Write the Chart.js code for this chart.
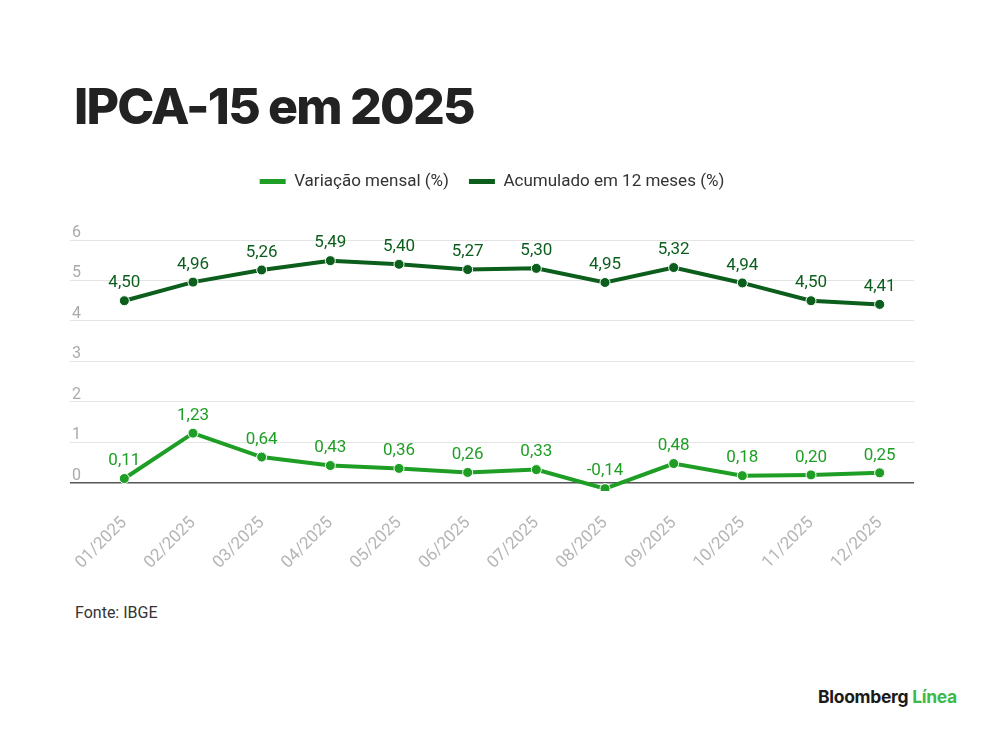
<!DOCTYPE html>
<html>
<head>
<meta charset="utf-8">
<script src="https://cdn.jsdelivr.net/npm/chart.js@4.4.1/dist/chart.umd.min.js"></script>
<style>
  html, body { margin: 0; padding: 0; background: #fff; }
  body { width: 1000px; height: 742px; position: relative; overflow: hidden; font-family: Roboto, sans-serif; }
  #title { position: absolute; left: 74px; top: 76px; font-family: Inter, sans-serif; font-weight: 800; font-size: 50px; letter-spacing: -1.8px; color: #222; margin: 0; line-height: 60px; }
  #chartBox { position: absolute; left: 0; top: 148px; width: 1000px; height: 439px; }
  #source { position: absolute; left: 75px; top: 603px; font-size: 16px; color: #333; }
  #logo { position: absolute; left: 818px; top: 686px; font-family: Inter, sans-serif; font-weight: 700; font-size: 17.5px; color: #1b1b1b; letter-spacing: -0.3px; }
  #logo span { color: #3dba4a; }
</style>
</head>
<body>
<div id="title">IPCA-15 em 2025</div>
<div id="chartBox"><canvas id="myChart"></canvas></div>
<div id="source">Fonte: IBGE</div>
<div id="logo">Bloomberg <span>Línea</span></div>
<script>
// data
const months = ['01/2025', '02/2025', '03/2025', '04/2025', '05/2025', '06/2025',
                '07/2025', '08/2025', '09/2025', '10/2025', '11/2025', '12/2025'];
const mensal = [0.11, 1.23, 0.64, 0.43, 0.36, 0.26, 0.33, -0.14, 0.48, 0.18, 0.20, 0.25];
const acumulado = [4.50, 4.96, 5.26, 5.49, 5.40, 5.27, 5.30, 4.95, 5.32, 4.94, 4.50, 4.41];
const yTicks = [0, 1, 2, 3, 4, 5, 6];

const lightGreen = '#1f9e25';
const darkGreen = '#0b5e1c';

const fmt = v => v.toFixed(2).replace('.', ',');

// value labels above each point
const valueLabels = {
    id: 'valueLabels',
    afterDatasetsDraw(chart) {
        const ctx = chart.ctx;
        ctx.save();
        ctx.font = '17px Roboto';
        ctx.textAlign = 'center';
        ctx.textBaseline = 'bottom';
        chart.data.datasets.forEach((ds, i) => {
            const meta = chart.getDatasetMeta(i);
            ctx.fillStyle = ds.borderColor;
            meta.data.forEach((pt, j) => {
                ctx.fillText(fmt(ds.data[j]), pt.x, pt.y - 9);
            });
        });
        ctx.restore();
    }
};

// y tick labels sit just above their grid line, inside the left edge
const yLabels = {
    id: 'yLabels',
    afterDraw(chart) {
        const ctx = chart.ctx;
        const y = chart.scales.y;
        ctx.save();
        ctx.font = '16px Roboto';
        ctx.fillStyle = '#aaaaaa';
        ctx.textAlign = 'left';
        ctx.textBaseline = 'alphabetic';
        yTicks.forEach(v => {
            ctx.fillText(String(v), y.left + 2, y.getPixelForValue(v) - 3);
        });
        ctx.restore();
    }
};

// extra room under the legend
const legendGap = {
    id: 'legendGap',
    beforeInit(chart) {
        const fit = chart.legend.fit;
        chart.legend.fit = function () {
            fit.bind(chart.legend)();
            this.height += 40;
        };
    }
};

Chart.register(valueLabels, yLabels, legendGap);

new Chart(document.getElementById('myChart'), {
    type: 'line',
    data: {
        labels: months,
        datasets: [
            {
                label: 'Variação mensal (%)',
                data: mensal,
                borderColor: lightGreen,
                backgroundColor: lightGreen,
                borderWidth: 4,
                pointRadius: 5,
                pointBorderColor: '#fff',
                pointBorderWidth: 1,
                pointBackgroundColor: lightGreen
            },
            {
                label: 'Acumulado em 12 meses (%)',
                data: acumulado,
                borderColor: darkGreen,
                backgroundColor: darkGreen,
                borderWidth: 4,
                pointRadius: 5,
                pointBorderColor: '#fff',
                pointBorderWidth: 1,
                pointBackgroundColor: darkGreen
            }
        ]
    },
    options: {
        responsive: true,
        maintainAspectRatio: false,
        animation: false,
        layout: { padding: { top: 5, left: 70, right: 86, bottom: 0 } },
        plugins: {
            tooltip: { enabled: false },
            legend: {
                position: 'top',
                labels: {
                    font: { family: 'Roboto', size: 17 },
                    color: '#333',
                    boxWidth: 26,
                    boxHeight: 5,
                    padding: 20,
                    generateLabels(chart) {
                        return chart.data.datasets.map((ds, i) => ({
                            text: ds.label,
                            fillStyle: ds.borderColor,
                            strokeStyle: ds.borderColor,
                            lineWidth: 0,
                            fontColor: '#333',
                            datasetIndex: i
                        }));
                    }
                }
            }
        },
        scales: {
            x: {
                offset: true,
                grid: { display: false },
                border: { display: false },
                ticks: {
                    font: { family: 'Roboto', size: 17 },
                    color: '#b5b5b5',
                    minRotation: 45,
                    maxRotation: 45,
                    padding: 14
                }
            },
            y: {
                min: -0.2,
                max: 6,
                afterBuildTicks(scale) {
                    scale.ticks = yTicks.map(v => ({ value: v }));
                },
                border: { display: false },
                grid: {
                    tickLength: 20,
                    color: c => (c.tick && c.tick.value === 0) ? '#555' : '#e4e4e4',
                    lineWidth: c => (c.tick && c.tick.value === 0) ? 1.5 : 1
                },
                ticks: { display: false }
            }
        }
    }
});
</script>
</body>
</html>
